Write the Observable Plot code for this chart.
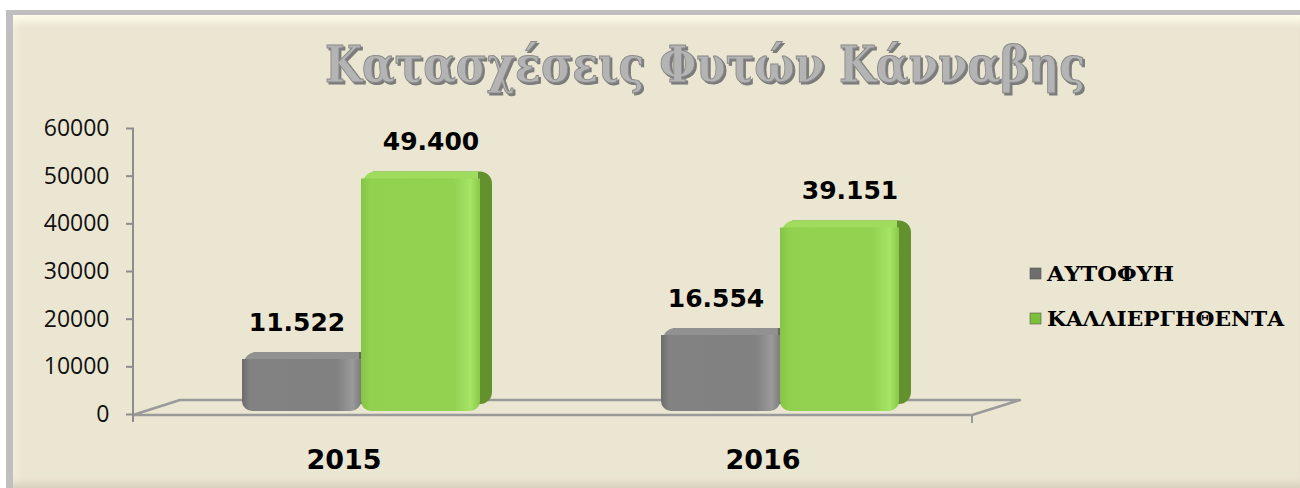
<!DOCTYPE html>
<html>
<head>
<meta charset="utf-8">
<script src="https://cdn.jsdelivr.net/npm/d3@7"></script>
<script src="https://cdn.jsdelivr.net/npm/@observablehq/plot@0.6"></script>
<style>
  html, body { margin: 0; padding: 0; background: #ffffff; }
  #wrap { position: relative; width: 1300px; height: 488px; overflow: hidden; background: #ffffff; }
  #panel {
    position: absolute; left: 6px; top: 10px; right: 0; bottom: 0;
    background: #EBE6D2;
    border-left: 7px solid #BFBFBF; border-top: 5px solid #BFBFBF;
    box-shadow: inset 0 14px 10px -8px #FFFDEB, inset 0 -9px 8px -5px #D3CEB8, inset 8px 0 8px -6px #F8F5E4;
  }
  #chart { position: absolute; left: 0; top: 0; }
  #overlay { position: absolute; left: 0; top: 0; pointer-events: none; }
</style>
</head>
<body>
<div id="wrap">
  <div id="panel"></div>
  <div id="chart"></div>
  <svg id="overlay" width="1300" height="488"></svg>
</div>
<script>
// ---- data ----
const title = "Κατασχέσεις Φυτών Κάνναβης";
const years = ["2015", "2016"];
const seriesNames = ["ΑΥΤΟΦΥΗ", "ΚΑΛΛΙΕΡΓΗΘΕΝΤΑ"];
const autofyi = [11522, 16554];
const kalliergithenta = [49400, 39151];
const yTicks = [0, 10000, 20000, 30000, 40000, 50000, 60000];

// ---- styles ----
const frontFill = {"ΑΥΤΟΦΥΗ": "url(#gGray)", "ΚΑΛΛΙΕΡΓΗΘΕΝΤΑ": "url(#gGreen)"};
const topFill = {"ΑΥΤΟΦΥΗ": "#919191", "ΚΑΛΛΙΕΡΓΗΘΕΝΤΑ": "#9FDB5C"};
const sideFill = {"ΑΥΤΟΦΥΗ": "#666666", "ΚΑΛΛΙΕΡΓΗΘΕΝΤΑ": "#63912E"};
const legendFill = {"ΑΥΤΟΦΥΗ": "#6E6E6E", "ΚΑΛΛΙΕΡΓΗΘΕΝΤΑ": "#7CBF3A"};
const legendLen = {"ΑΥΤΟΦΥΗ": 127, "ΚΑΛΛΙΕΡΓΗΘΕΝΤΑ": 237};

const table = years.flatMap((yr, i) => [
  {year: yr, series: seriesNames[0], value: autofyi[i]},
  {year: yr, series: seriesNames[1], value: kalliergithenta[i]}
]);

const locale = d3.formatLocale({decimal: ",", thousands: ".", grouping: [3], currency: ["", "€"]});
const fmt = locale.format(",d");

const NS = "http://www.w3.org/2000/svg";
function el(name, attrs) {
  const e = document.createElementNS(NS, name);
  for (const k in attrs) e.setAttribute(k, attrs[k]);
  return e;
}

const M = {left: 133, right: 328, top: 128, bottom: 74};
const labelFont = "DejaVu Sans, Verdana, sans-serif";

const plot = Plot.plot({
  width: 1300,
  height: 488,
  marginLeft: M.left,
  marginRight: M.right,
  marginTop: M.top,
  marginBottom: M.bottom,
  style: {background: "transparent", overflow: "visible"},
  fx: {domain: years, padding: 0, axis: null},
  x: {domain: seriesNames, paddingInner: 0, paddingOuter: 0.75, align: 0.595, axis: null},
  y: {domain: [0, 60000], axis: null},
  marks: [
    Plot.axisY(yTicks, {
      tickSize: 8, tickPadding: 17, stroke: "#8C8C8C", strokeWidth: 2,
      fill: "#111", fontSize: 23, fontFamily: "Open Sans, Liberation Sans, sans-serif",
      label: null, tickFormat: d => String(d)
    }),
    Plot.axisFx({
      anchor: "bottom", tickSize: 0, tickPadding: 35, fontSize: 27, fontWeight: "bold",
      fontFamily: labelFont, fill: "#000", label: null
    }),
    // back / side face
    Plot.barY(table, {fx: "year", x: "series", y: "value", fill: d => sideFill[d.series],
      dx: 12, dy: -7, insetBottom: 3, ry2: 12, rx2: 12}),
    // top face
    Plot.barY(table, {fx: "year", x: "series", y: "value", fill: d => topFill[d.series],
      dx: 2, dy: -7, insetBottom: 3, insetRight: 4, ry2: 12, rx1: 12}),
    // front face
    Plot.barY(table, {fx: "year", x: "series", y: "value", fill: d => frontFill[d.series],
      insetBottom: 3, ry2: 10}),
    Plot.text(table.filter(d => d.series === seriesNames[0]), {fx: "year", x: "series", y: "value",
      text: d => fmt(d.value), dy: -37, dx: -5, fontSize: 25, fontWeight: "bold",
      fontFamily: labelFont, fill: "#000"}),
    Plot.text(table.filter(d => d.series === seriesNames[1]), {fx: "year", x: "series", y: "value",
      text: d => fmt(d.value), dy: -37, dx: 10, fontSize: 25, fontWeight: "bold",
      fontFamily: labelFont, fill: "#000"})
  ]
});
document.getElementById("chart").appendChild(plot);

// ---- gradients, floor and y-axis line, placed with the plot's own y scale ----
(function () {
  const y = plot.scale("y");
  const y0 = y.apply(0);
  const yTop = y.apply(60000);
  const x0 = M.left;
  const x1 = 1300 - M.right;
  const g = el("g", {});
  const defs = el("defs", {});
  const mk = (id, stops) => {
    const lg = el("linearGradient", {id, x1: "0", y1: "0", x2: "1", y2: "0"});
    for (const [o, c] of stops) lg.appendChild(el("stop", {offset: o, "stop-color": c}));
    defs.appendChild(lg);
  };
  mk("gGray", [["0", "#6C6C6C"], ["0.07", "#828282"], ["0.8", "#818181"], ["0.93", "#9A9A9A"], ["1", "#7C7C7C"]]);
  mk("gGreen", [["0", "#86C444"], ["0.08", "#92D050"], ["0.78", "#93D151"], ["0.92", "#A6E466"], ["1", "#8BC84A"]]);
  g.appendChild(defs);
  g.appendChild(el("path", {
    d: `M${x0},${y0 + 1}L${x1},${y0 + 1}L${x1 + 48},${y0 - 14}L${x0 + 47},${y0 - 14}Z`,
    fill: "none", stroke: "#9A9A9A", "stroke-width": 2.5, "stroke-linejoin": "round"
  }));
  g.appendChild(el("line", {x1: x1, x2: x1, y1: y0 + 1, y2: y0 + 9, stroke: "#9A9A9A", "stroke-width": 2}));
  g.appendChild(el("line", {x1: x0, x2: x0, y1: yTop, y2: y0 + 8, stroke: "#8C8C8C", "stroke-width": 2}));
  const styleEl = plot.querySelector("style");
  plot.insertBefore(g, styleEl ? styleEl.nextSibling : plot.firstChild);
})();

// ---- title and legend overlay ----
const ov = document.getElementById("overlay");
const t = el("text", {x: 705, y: 82, "text-anchor": "middle", "font-family": "DejaVu Serif, serif",
  "font-weight": "bold", "font-size": 50, fill: "#B4B4B4", stroke: "#8A8A8A", "stroke-width": 1,
  textLength: 760, lengthAdjust: "spacingAndGlyphs",
  style: "filter: drop-shadow(2px 2px 0 #7A7A7A)"});
t.textContent = title;
ov.appendChild(t);

seriesNames.forEach((s, i) => {
  const yb = i === 0 ? 281 : 326;
  ov.appendChild(el("rect", {x: 1030, y: yb - 13, width: 11, height: 11, fill: legendFill[s],
    stroke: "#555", "stroke-width": 0.6}));
  const tx = el("text", {x: 1047, y: yb, "font-family": "DejaVu Serif, serif", "font-weight": "bold",
    "font-size": 21, fill: "#000", textLength: legendLen[s], lengthAdjust: "spacingAndGlyphs"});
  tx.textContent = s;
  ov.appendChild(tx);
});
</script>
</body>
</html>
